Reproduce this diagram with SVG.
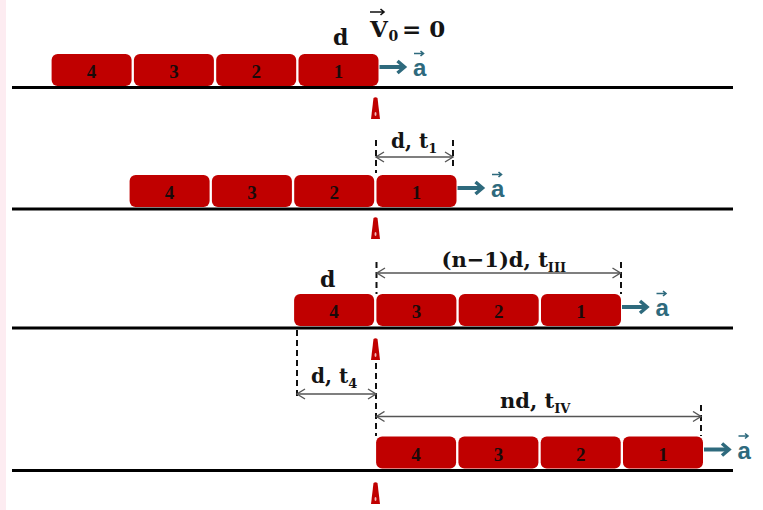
<svg xmlns="http://www.w3.org/2000/svg" xmlns:xlink="http://www.w3.org/1999/xlink" width="763" height="510" viewBox="0 0 763 510">
<defs>
<style>
.car{fill:#c00000;}
.num{font-family:"Liberation Serif",serif;font-weight:bold;font-size:19px;fill:#1a0a0a;text-anchor:middle;}
.ground{stroke:#000;stroke-width:3;}
.acc{stroke:#2e6a7d;stroke-width:4;fill:none;}
.acch{stroke:#2e6a7d;stroke-width:3.5;fill:none;}
.alab{font-family:"Liberation Sans",sans-serif;font-weight:bold;font-size:24px;fill:#2e6a7d;}
.vec{stroke:#2e6a7d;stroke-width:1.6;fill:none;}
.vecb{stroke:#111;stroke-width:1.6;fill:none;}
.dash{stroke:#111;stroke-width:2;stroke-dasharray:6 4;fill:none;}
.dim{stroke:#555;stroke-width:1.4;fill:none;marker-start:url(#ah);marker-end:url(#ah);}
.lab{font-family:"DejaVu Serif",serif;font-weight:bold;font-size:20px;fill:#141414;}
</style>
<marker id="ah" markerWidth="12" markerHeight="12" refX="9" refY="6" orient="auto-start-reverse" markerUnits="userSpaceOnUse">
<path d="M1,1 L9,6 L1,11" fill="none" stroke="#555" stroke-width="1.4"/>
</marker>
<g id="pin">
<path d="M-2,0 Q0,-1.5 2,0 L4.5,21 L-4.5,21 Z" fill="#c00000"/>
<ellipse cx="0" cy="16" rx="1" ry="2" fill="#f2b8b8"/>
</g>
</defs>
<rect x="0" y="0" width="763" height="510" fill="#ffffff"/>
<rect x="0" y="0" width="6" height="510" fill="#fdecf1"/>

<g id="grounds">
<line class="ground" x1="12" y1="87.5" x2="733" y2="87.5"/>
<line class="ground" x1="12" y1="209" x2="733" y2="209"/>
<line class="ground" x1="12" y1="328" x2="733" y2="328"/>
<line class="ground" x1="12" y1="470.5" x2="733" y2="470.5"/>
</g>

<g id="markers">
<use xlink:href="#pin" x="375.5" y="98"/>
<use xlink:href="#pin" x="375.5" y="218"/>
<use xlink:href="#pin" x="375.5" y="339"/>
<use xlink:href="#pin" x="375.5" y="483"/>
</g>

<g id="row1">
<g id="r1-car4"><rect class="car" x="51.6" y="54" width="80" height="32" rx="6"/><text class="num" x="91.6" y="78">4</text></g>
<g id="r1-car3"><rect class="car" x="133.9" y="54" width="80" height="32" rx="6"/><text class="num" x="173.9" y="78">3</text></g>
<g id="r1-car2"><rect class="car" x="216.2" y="54" width="80" height="32" rx="6"/><text class="num" x="256.2" y="78">2</text></g>
<g id="r1-car1"><rect class="car" x="298.5" y="54" width="80" height="32" rx="6"/><text class="num" x="338.5" y="78">1</text></g>
</g>

<g id="row2">
<g id="r2-car4"><rect class="car" x="129.6" y="175" width="80" height="32" rx="6"/><text class="num" x="169.6" y="199">4</text></g>
<g id="r2-car3"><rect class="car" x="211.9" y="175" width="80" height="32" rx="6"/><text class="num" x="251.9" y="199">3</text></g>
<g id="r2-car2"><rect class="car" x="294.2" y="175" width="80" height="32" rx="6"/><text class="num" x="334.2" y="199">2</text></g>
<g id="r2-car1"><rect class="car" x="376.5" y="175" width="80" height="32" rx="6"/><text class="num" x="416.5" y="199">1</text></g>
</g>

<g id="row3">
<g id="r3-car4"><rect class="car" x="294.1" y="294" width="80" height="32" rx="6"/><text class="num" x="334.1" y="318">4</text></g>
<g id="r3-car3"><rect class="car" x="376.4" y="294" width="80" height="32" rx="6"/><text class="num" x="416.4" y="318">3</text></g>
<g id="r3-car2"><rect class="car" x="458.7" y="294" width="80" height="32" rx="6"/><text class="num" x="498.7" y="318">2</text></g>
<g id="r3-car1"><rect class="car" x="541" y="294" width="80" height="32" rx="6"/><text class="num" x="581" y="318">1</text></g>
</g>

<g id="row4">
<g id="r4-car4"><rect class="car" x="376.1" y="436.5" width="80" height="32" rx="6"/><text class="num" x="416.1" y="460.5">4</text></g>
<g id="r4-car3"><rect class="car" x="458.4" y="436.5" width="80" height="32" rx="6"/><text class="num" x="498.4" y="460.5">3</text></g>
<g id="r4-car2"><rect class="car" x="540.7" y="436.5" width="80" height="32" rx="6"/><text class="num" x="580.7" y="460.5">2</text></g>
<g id="r4-car1"><rect class="car" x="623" y="436.5" width="80" height="32" rx="6"/><text class="num" x="663" y="460.5">1</text></g>
</g>

<g id="connectors">
<path class="acc" d="M379.5,67 H402.5"/><path class="acch" d="M397.5,61 L404.5,67 L397.5,73"/>
<path class="acc" d="M457.5,188 H480.5"/><path class="acch" d="M475.5,182 L482.5,188 L475.5,194"/>
<path class="acc" d="M622,307 H645"/><path class="acch" d="M640,301 L647,307 L640,313"/>
<path class="acc" d="M704,449.5 H727"/><path class="acch" d="M722,443.5 L729,449.5 L722,455.5"/>
<path class="dash" d="M376,140 V173 M453,140 V170"/>
<path class="dash" d="M376.5,262 V294 M621,262 V294 M297,330 V396"/>
<path class="dash" d="M376,363 V436 M701,405 V436"/>
<path class="dim" d="M376,157 H453"/>
<path class="dim" d="M377,273 H620.5"/>
<path class="dim" d="M297,394 H376"/>
<path class="dim" d="M376.5,416.5 H701"/>
</g>

<g id="labels">
<text class="lab" x="333" y="45" style="font-size:22px">d</text>
<text class="lab" style="font-size:23px"><tspan x="370" y="37">V</tspan><tspan x="388.5" y="41" style="font-size:14px">0</tspan><tspan x="402" y="37">= 0</tspan></text>
<path class="vecb" d="M370,12 H384 M380.5,9 L384,12 L380.5,15"/>
<text class="lab" x="391" y="148">d, t<tspan style="font-size:13px" dy="5">1</tspan></text>
<text class="lab" x="441.5" y="267" style="font-size:21px">(n−1)d, t<tspan style="font-size:13px" dy="5">III</tspan></text>
<text class="lab" x="320" y="287" style="font-size:22px">d</text>
<text class="lab" x="311" y="383">d, t<tspan style="font-size:13px" dy="5">4</tspan></text>
<text class="lab" x="500" y="408" style="font-size:21px">nd, t<tspan style="font-size:13px" dy="5">IV</tspan></text>
<text class="alab" x="413" y="76">a</text>
<path class="vec" d="M414,53.5 H423 M420.5,51 L423.5,53.5 L420.5,56"/>
<text class="alab" x="491" y="197">a</text>
<path class="vec" d="M492,174.5 H501 M498.5,172 L501.5,174.5 L498.5,177"/>
<text class="alab" x="655.5" y="316">a</text>
<path class="vec" d="M656.5,293.5 H665.5 M663,291 L666,293.5 L663,296"/>
<text class="alab" x="737.5" y="458.5">a</text>
<path class="vec" d="M738.5,436 H747.5 M745,433.5 L748,436 L745,438.5"/>
</g>
</svg>
